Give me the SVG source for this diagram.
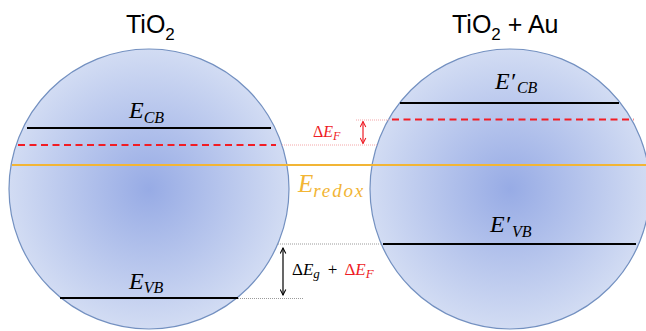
<svg xmlns="http://www.w3.org/2000/svg" width="646" height="331" viewBox="0 0 646 331">
<defs>
<radialGradient id="ball" cx="0.5" cy="0.5" r="0.5">
<stop offset="0" stop-color="#97abe5"/>
<stop offset="1" stop-color="#d2dcf3"/>
</radialGradient>
<marker id="ar" viewBox="0 0 10 10" refX="9" refY="5" markerWidth="7" markerHeight="7" orient="auto-start-reverse" markerUnits="userSpaceOnUse"><path d="M1,1 L9,5 L1,9" fill="none" stroke="#ee1c25" stroke-width="1.5"/></marker>
<marker id="ak" viewBox="0 0 10 10" refX="9" refY="5" markerWidth="7" markerHeight="7" orient="auto-start-reverse" markerUnits="userSpaceOnUse"><path d="M1,1 L9,5 L1,9" fill="none" stroke="#000" stroke-width="1.5"/></marker>
</defs>
<style>
.ball{fill:url(#ball);stroke:#7390c0;stroke-width:1.2}
.band{stroke:#000;stroke-width:2.2}
.fermi{stroke:#f21c24;stroke-width:2.2;stroke-dasharray:7 4.5}
.redox{stroke:#f2b535;stroke-width:2.2}
.title{font-family:"Liberation Sans",Arial,sans-serif;font-size:25px;fill:#000}
.m{font-family:"Liberation Serif","Times New Roman",serif;font-style:italic;fill:#000}
.up{font-family:"Liberation Serif","Times New Roman",serif;font-style:normal}
.dotr{stroke:#f4a6a8;stroke-width:1;stroke-dasharray:1 1}
.dotg{stroke:#9a9a9a;stroke-width:1;stroke-dasharray:1 1}
</style>
<g id="tio2">
<circle class="ball" cx="149" cy="189" r="140"/>
<line class="band" x1="27" y1="128" x2="271" y2="128"/>
<line class="fermi" x1="18" y1="145" x2="276" y2="145"/>
<line class="band" x1="60" y1="298" x2="238" y2="298"/>
<text class="title" x="126" y="33">TiO<tspan font-size="17" dy="7">2</tspan></text>
<text class="m" x="129" y="118" font-size="24">E<tspan font-size="16" dy="5">CB</tspan></text>
<text class="m" x="129" y="289" font-size="24">E<tspan font-size="16" dy="4">VB</tspan></text>
</g>
<g id="tio2au">
<circle class="ball" cx="510" cy="189" r="140"/>
<line class="band" x1="400" y1="103" x2="619" y2="103"/>
<line class="fermi" x1="392" y1="119.5" x2="634" y2="119.5"/>
<line class="band" x1="383" y1="244" x2="636" y2="244"/>
<text class="title" x="452" y="33">TiO<tspan font-size="17" dy="7">2</tspan><tspan dy="-7"> + Au</tspan></text>
<text class="m" x="495" y="89" font-size="24">E′<tspan font-size="16" dx="2" dy="4">CB</tspan></text>
<text class="m" x="490" y="232" font-size="24">E′<tspan font-size="16" dx="2" dy="5">VB</tspan></text>
</g>
<g id="redox">
<line class="redox" x1="12" y1="165" x2="646" y2="165"/>
<text class="m" x="298" y="192" font-size="25" fill="#f2b535" style="fill:#f2b535">E<tspan font-size="19" dy="5" textLength="50" lengthAdjust="spacing">redox</tspan></text>
</g>
<g id="connectors">
<line class="dotr" x1="282" y1="145" x2="377" y2="145"/>
<line class="dotr" x1="356" y1="120" x2="390" y2="120"/>
<line x1="363" y1="121.5" x2="363" y2="143.5" stroke="#ee1c25" stroke-width="1.2" marker-start="url(#ar)" marker-end="url(#ar)"/>
<line class="dotg" x1="278" y1="244" x2="381" y2="244"/>
<line class="dotg" x1="238" y1="298.5" x2="304" y2="298.5"/>
<line x1="283" y1="248" x2="283" y2="295" stroke="#000" stroke-width="1.2" marker-start="url(#ak)" marker-end="url(#ak)"/>
</g>
<g id="labels">
<text class="m" x="313" y="137" font-size="16" style="fill:#ee1c25"><tspan class="up">Δ</tspan>E<tspan font-size="12" dy="3">F</tspan></text>
<text class="m" x="292" y="275" font-size="17"><tspan class="up">Δ</tspan>E<tspan font-size="13" dy="3">g</tspan><tspan class="up" dx="8" dy="-3">+</tspan><tspan class="up" dx="7" style="fill:#ee1c25">Δ</tspan><tspan style="fill:#ee1c25">E</tspan><tspan font-size="13" dy="3" style="fill:#ee1c25">F</tspan></text>
</g>
</svg>
